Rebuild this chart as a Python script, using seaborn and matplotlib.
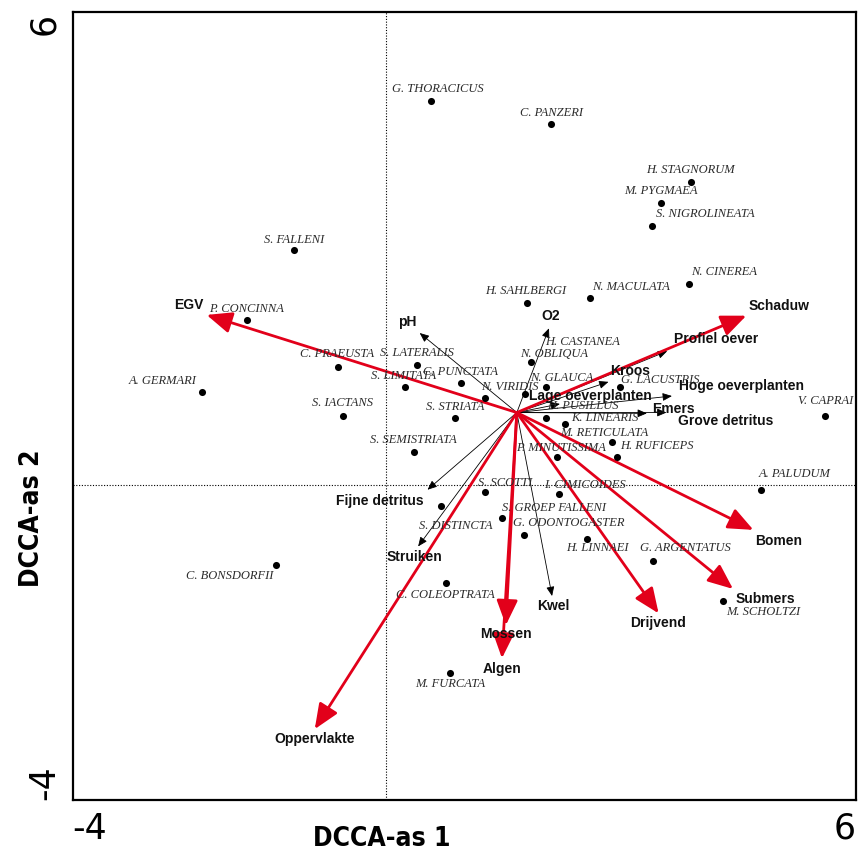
import matplotlib
matplotlib.use("Agg")
import matplotlib.pyplot as plt
import seaborn as sns
import pandas as pd

# ---------------- data ----------------
species = ["G. THORACICUS", "C. PANZERI", "H. STAGNORUM", "M. PYGMAEA", "S. NIGROLINEATA",
           "S. FALLENI", "N. CINEREA", "N. MACULATA", "H. SAHLBERGI", "P. CONCINNA",
           "H. CASTANEA", "N. OBLIQUA", "N. GLAUCA", "G. LACUSTRIS", "N. VIRIDIS",
           "H. PUSILLUS", "K. LINEARIS", "M. RETICULATA", "H. RUFICEPS", "P. MINUTISSIMA",
           "V. CAPRAI", "A. PALUDUM", "S. SCOTTI", "I. CIMICOIDES", "S. GROEP FALLENI",
           "G. ODONTOGASTER", "H. LINNAEI", "G. ARGENTATUS", "M. SCHOLTZI", "C. PRAEUSTA",
           "S. LATERALIS", "C. PUNCTATA", "S. LIMITATA", "A. GERMARI", "S. IACTANS",
           "S. STRIATA", "S. SEMISTRIATA", "S. DISTINCTA", "C. BONSDORFII", "C. COLEOPTRATA",
           "M. FURCATA"]
sp_x = [0.58, 2.10, 3.89, 3.51, 3.40,
        -1.17, 3.87, 2.60, 1.80, -1.77,
        1.77, 1.85, 2.04, 2.99, 1.26,
        2.04, 2.29, 2.88, 2.95, 2.18,
        5.61, 4.79, 1.26, 2.21, 1.48,
        1.76, 2.57, 3.41, 4.30, -0.61,
        0.39, 0.96, 0.24, -2.35, -0.55,
        0.88, 0.36, 0.70, -1.40, 0.77,
        0.82]
sp_y = [4.88, 4.59, 3.85, 3.58, 3.29,
        2.99, 2.55, 2.38, 2.31, 2.10,
        1.16, 1.56, 1.24, 1.24, 1.11,
        0.85, 0.78, 0.54, 0.35, 0.35,
        0.88, -0.06, -0.09, -0.12, -0.42,
        -0.63, -0.68, -0.96, -1.47, 1.50,
        1.52, 1.30, 1.24, 1.18, 0.87,
        0.85, 0.42, -0.27, -1.02, -1.25,
        -2.39]

# environmental variables (arrows start at the centroid)
arrow_origin = (1.67, 0.92)
env_names = ["EGV", "Schaduw", "Bomen", "Submers", "Drijvend", "Mossen", "Algen", "Oppervlakte",
             "pH", "O2", "Profiel oever", "Kroos", "Hoge oeverplanten", "Lage oeverplanten",
             "Emers", "Grove detritus", "Fijne detritus", "Struiken", "Kwel"]
env_x = [-2.29, 4.60, 4.69, 4.43, 3.48, 1.53, 1.48, -0.91,
         0.43, 2.08, 3.59, 2.84, 3.65, 2.22,
         3.33, 3.58, 0.53, 0.41, 2.12]
env_y = [2.16, 2.15, -0.57, -1.32, -1.63, -1.78, -2.20, -3.10,
         1.93, 1.99, 1.70, 1.31, 1.13, 1.03,
         0.91, 0.92, -0.06, -0.78, -1.41]
significant = ["EGV", "Schaduw", "Bomen", "Submers", "Drijvend", "Mossen", "Algen", "Oppervlakte"]

x_ticks = [-4, -2, 0, 2, 4, 6]
y_ticks = [-4, -2, 0, 2, 4, 6]
x_ticklabels = ["-4", "", "", "", "", "6"]
y_ticklabels = ["-4", "", "", "", "", "6"]
x_title = "DCCA-as 1"
y_title = "DCCA-as 2"

# ---------------- layout (label offsets in pixels: right, down) ----------------
sp_lab_off = [(6, -12), (1, -11), (0, -12), (0, -12), (53, -12),
              (0, -10), (35, -12), (41, -11), (-1, -12), (-1, -11),
              (58, -52), (23, -8), (16, -9), (40, -7), (25, -11),
              (37, -12), (39, -6), (-7, -9), (40, -11), (4, -9),
              (0, -15), (33, -16), (20, -9), (26, -9), (52, -10),
              (45, -12), (10, 9), (32, -13), (40, 11), (-1, -13),
              (0, -12), (-1, -11), (-1, -11), (-39, -11), (0, -13),
              (0, -11), (-1, -12), (15, 20), (-47, 11), (-1, 12),
              (0, 11)]
env_lab_off = [(-18, -10), (33, -10), (25, 11), (32, 10), (-1, 10), (0, 9), (0, 11), (0, 10),
               (-12, -11), (2, -12), (49, -12), (22, -11), (70, -10), (30, -8),
               (27, -4), (59, 8), (-48, 11), (-4, 11), (1, 10)]

W, H, DPI = 858, 855, 100
PT = 72.0 / DPI

sns.set_style("white")
plt.rcParams["font.family"] = ["DejaVu Sans"]

fig = plt.figure(figsize=(W / DPI, H / DPI), dpi=DPI)
ax = fig.add_axes([72.7 / W, 55 / H, (856 - 72.7) / W, (800 - 12.5) / H])

ax.axhline(0, color="black", lw=0.8, ls=(0, (1, 1.5)), zorder=1)
ax.axvline(0, color="black", lw=0.8, ls=(0, (1, 1.5)), zorder=1)

df = pd.DataFrame({"x": sp_x, "y": sp_y, "name": species})
sns.scatterplot(data=df, x="x", y="y", ax=ax, color="black", s=26, linewidth=0, zorder=4, legend=False)

for name, x, y, (dx, dy) in zip(species, sp_x, sp_y, sp_lab_off):
    ax.annotate(name, (x, y), xytext=(dx * PT, -dy * PT), textcoords="offset points",
                ha="center", va="center", fontsize=9, fontstyle="italic",
                family="Liberation Serif", color="#2b2b2b", zorder=5, annotation_clip=False)

red = "#e2001a"
order = [i for i, n in enumerate(env_names) if n not in significant] + \
        [i for i, n in enumerate(env_names) if n in significant]
for i in order:
    name, ex, ey = env_names[i], env_x[i], env_y[i]
    if name in significant:
        props = dict(arrowstyle="-|>,head_length=0.85,head_width=0.36", mutation_scale=18,
                     color=red, lw=2.0, shrinkA=0, shrinkB=0)
        z = 3
    else:
        props = dict(arrowstyle="-|>,head_length=0.7,head_width=0.3", mutation_scale=8,
                     color="black", lw=0.6, shrinkA=0, shrinkB=0)
        z = 2
    ax.annotate("", xy=(ex, ey), xytext=arrow_origin, arrowprops=props, zorder=z)
    dx, dy = env_lab_off[i]
    ax.annotate(name, (ex, ey), xytext=(dx * PT, -dy * PT), textcoords="offset points",
                ha="center", va="center", fontsize=10, fontweight="bold",
                family="Liberation Sans", color="#111111", zorder=6)

ax.set_xlim(-4, 6)
ax.set_ylim(-4, 6)
ax.set_xticks(x_ticks, labels=x_ticklabels)
ax.set_yticks(y_ticks, labels=y_ticklabels)
ax.tick_params(direction="inout", length=9, width=1.3, colors="black", labelsize=25, pad=4)
for s in ax.spines.values():
    s.set_color("black")
    s.set_linewidth(1.6)

xl = ax.get_xticklabels()
xl[0].set_ha("left")
xl[-1].set_ha("right")
yl = ax.get_yticklabels()
for t in yl:
    t.set_rotation(90)
yl[0].set_va("bottom")
yl[-1].set_va("top")

ax.set_xlabel(x_title, fontsize=19, fontstretch="condensed", fontweight="bold", color="black")
ax.set_ylabel(y_title, fontsize=19, fontstretch="condensed", fontweight="bold", color="black")
ax.xaxis.set_label_coords(0.395, -0.033)
ax.yaxis.set_label_coords(-0.035, 0.358)

fig.savefig("out.png", dpi=DPI)
